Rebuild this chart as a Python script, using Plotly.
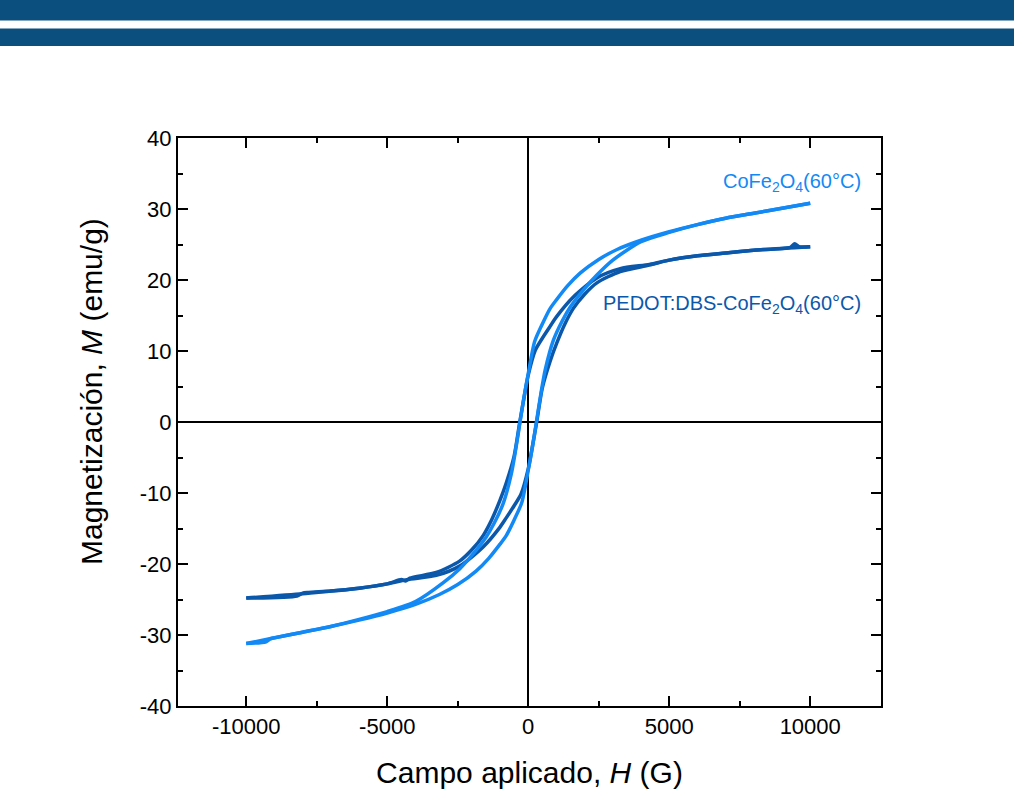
import plotly.graph_objects as go

# ---- data ----
# CoFe2O4 (60 °C): descending branch (H from +10000 to -10000)
cofe_desc_H = [10000, 9000, 8000, 7000, 6000, 5000, 4000, 3150, 2500, 1850, 1400, 1000, 780, 500, 225, 0,
               -150, -290, -450, -600, -890, -1200, -1490, -2000, -2435, -3000, -4000, -5000, -6000,
               -7000, -8000, -9000, -10000]
cofe_desc_M = [30.8, 30.1, 29.4, 28.7, 27.8, 26.8, 25.6, 24.3, 22.9, 21.0, 19.2, 17.2, 16.0, 13.8, 11.3, 6.8,
               3.5, 0.0, -4.0, -7.3, -11.5, -14.2, -16.2, -18.8, -20.7, -22.6, -25.3, -26.7, -27.8,
               -28.8, -29.6, -30.4, -31.2]
# CoFe2O4 (60 °C): ascending branch (H from -10000 to +10000)
cofe_asc_H = [-10000, -9300, -9150, -9000, -8000, -7000, -6000, -5000, -4000, -3150, -2500, -1850, -1400,
              -1000, -780, -500, -225, 0, 150, 290, 450, 600, 890, 1200, 1490, 2000, 2435, 3000, 4000,
              5000, 6000, 7000, 8000, 9000, 10000]
cofe_asc_M = [-31.2, -30.95, -30.55, -30.4, -29.6, -28.8, -27.9, -26.9, -25.7, -24.3, -22.9, -21.0, -19.2,
              -17.2, -16.0, -13.8, -11.3, -6.8, -3.5, 0.0, 4.0, 7.3, 11.5, 14.2, 16.2, 18.8, 20.7, 22.8,
              25.4, 26.7, 27.8, 28.7, 29.4, 30.1, 30.8]

# PEDOT:DBS-CoFe2O4 (60 °C): descending branch
pedot_desc_H = [10000, 9600, 9450, 9300, 8000, 7000, 6000, 5000, 4300, 3262, 2435, 1600, 1000, 780, 500,
                250, 0, -150, -300, -500, -780, -1000, -1300, -1600, -2000, -2435, -3262, -4200, -4350,
                -4500, -5000, -6000, -7000, -8000, -10000]
pedot_desc_M = [24.7, 24.7, 25.1, 24.6, 24.2, 23.8, 23.4, 22.8, 22.2, 21.6, 20.3, 17.6, 14.8, 13.5, 11.8,
                10.1, 6.6, 3.4, 0.0, -4.8, -8.6, -11.0, -13.8, -16.0, -18.0, -19.6, -21.2, -22.0, -22.4,
                -22.2, -22.8, -23.4, -23.8, -24.2, -24.8]
# PEDOT:DBS-CoFe2O4 (60 °C): ascending branch
pedot_asc_H = [-10000, -8200, -8000, -7800, -7000, -6000, -5000, -4300, -3262, -2435, -1600, -1000, -780,
               -500, -250, 0, 150, 300, 500, 780, 1000, 1300, 1600, 2000, 2435, 3262, 4300, 5000, 6000,
               7000, 8000, 10000]
pedot_asc_M = [-24.8, -24.5, -24.1, -24.0, -23.8, -23.4, -22.8, -22.2, -21.6, -20.3, -17.6, -14.8, -13.5,
               -11.8, -10.1, -6.6, -3.4, 0.0, 4.8, 8.6, 11.0, 13.8, 16.0, 18.0, 19.6, 21.2, 22.1, 22.8,
               23.4, 23.8, 24.2, 24.7]

x_ticks = [-10000, -5000, 0, 5000, 10000]
y_ticks = [-40, -30, -20, -10, 0, 10, 20, 30, 40]

LIGHT = "#1289F5"
DARK = "#0B58AB"
HEADER = "#0B4F7E"
FONT = "Liberation Sans, Arial, sans-serif"

fig = go.Figure()
for H, M, c in [(pedot_desc_H, pedot_desc_M, DARK), (pedot_asc_H, pedot_asc_M, DARK),
                (cofe_desc_H, cofe_desc_M, LIGHT), (cofe_asc_H, cofe_asc_M, LIGHT)]:
    fig.add_trace(go.Scatter(x=H, y=M, mode="lines",
                             line=dict(color=c, width=3.5, shape="spline", smoothing=0.7),
                             showlegend=False, hoverinfo="skip"))

tickfont = dict(family=FONT, size=22, color="black")
axis_common = dict(showline=True, linecolor="black", linewidth=2, mirror="ticks",
                   ticks="inside", ticklen=10, tickwidth=1.5, tickcolor="black",
                   showgrid=False, zeroline=True, zerolinecolor="black", zerolinewidth=1.6,
                   tickfont=tickfont)

fig.update_xaxes(range=[-12420, 12510], tickvals=x_ticks,
                 ticktext=[str(v) for v in x_ticks],
                 minor=dict(dtick=2500, tick0=0, ticks="inside", ticklen=5, tickwidth=1.5,
                            tickcolor="black", showgrid=False),
                 title=dict(text="Campo aplicado, <i>H</i> (G)",
                            font=dict(family=FONT, size=30, color="black"),
                            standoff=24),
                 **axis_common)
fig.update_yaxes(range=[-40, 40], tickvals=y_ticks,
                 ticktext=[str(v) for v in y_ticks],
                 minor=dict(dtick=5, tick0=0, ticks="inside", ticklen=5, tickwidth=1.5,
                            tickcolor="black", showgrid=False),
                 **axis_common)

L, R, T, B = 178, 133, 138, 93
W, Hh = 1014, 799
pw, ph = W - L - R, Hh - T - B


def px(xp):
    return (xp - L) / pw


def py(yp):
    return 1 - (yp - T) / ph


# header bars
fig.add_shape(type="rect", xref="paper", yref="paper", x0=px(-5), x1=px(W + 5), y0=py(20.5), y1=py(-5),
              fillcolor=HEADER, line=dict(width=0), layer="above")
fig.add_shape(type="rect", xref="paper", yref="paper", x0=px(-5), x1=px(W + 5), y0=py(46), y1=py(28.5),
              fillcolor=HEADER, line=dict(width=0), layer="above")

# y-axis title (placed as in the reference, slightly above the plot centre)
fig.add_annotation(x=px(91), y=py(392), xref="paper", yref="paper", xanchor="center", yanchor="middle",
                   text="Magnetización, <i>M</i> (emu/g)", textangle=-90, showarrow=False,
                   font=dict(family=FONT, size=30, color="black"))

fig.add_annotation(x=px(863), y=py(183), xref="paper", yref="paper", xanchor="right", yanchor="middle",
                   text="CoFe<sub>2</sub>O<sub>4</sub>(60°C)", showarrow=False,
                   font=dict(family=FONT, size=20, color=LIGHT))
fig.add_annotation(x=px(863), y=py(304), xref="paper", yref="paper", xanchor="right", yanchor="middle",
                   text="PEDOT:DBS-CoFe<sub>2</sub>O<sub>4</sub>(60°C)", showarrow=False,
                   font=dict(family=FONT, size=20, color=DARK))

fig.update_layout(width=W, height=Hh, margin=dict(l=L, r=R, t=T, b=B, autoexpand=False),
                  paper_bgcolor="white", plot_bgcolor="white", showlegend=False)

fig.write_html("out.html", config={"displayModeBar": False},
               post_script="document.body.style.margin='0px';document.body.style.overflow='hidden';")
